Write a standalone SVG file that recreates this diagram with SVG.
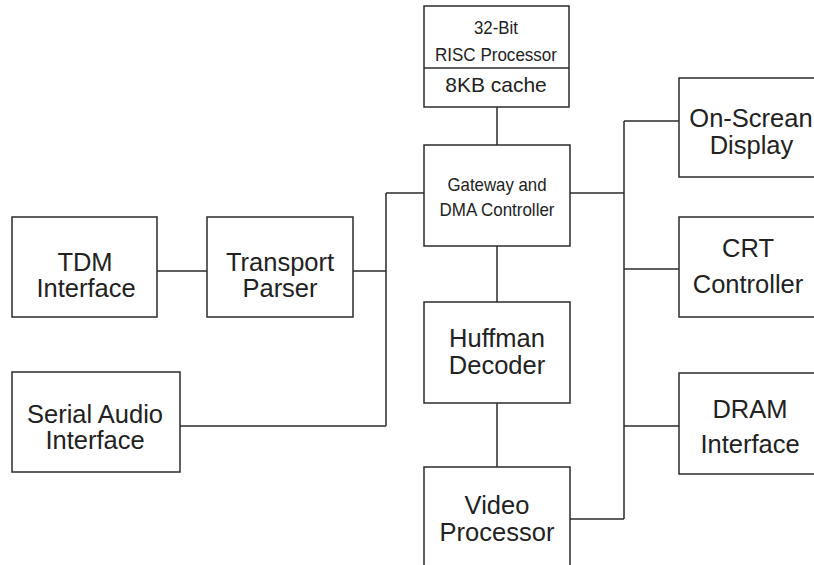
<svg xmlns="http://www.w3.org/2000/svg" width="814" height="565" viewBox="0 0 814 565">
<style>
.box{fill:#fff;stroke:#2b2b2b;stroke-width:1.5}
.ln{fill:none;stroke:#2b2b2b;stroke-width:1.5}
text{font-family:"Liberation Sans",Arial,sans-serif;fill:#222;text-anchor:middle}
.big{font-size:25.5px}
.sm{font-size:18.5px}
.md{font-size:21px}
</style>
<rect width="814" height="565" fill="#fff"/>
<g id="connectors">
<path class="ln" d="M497,107V145M497,246V302M497,403V467"/>
<path class="ln" d="M157,271H207M353,271H386M180,426H386M386,193V426M386,193H424"/>
<path class="ln" d="M570,193H624M624,121V519M624,121H679M624,269H679M624,426H679M570,519H624"/>
</g>
<g id="risc">
<rect class="box" x="424" y="6" width="145" height="101"/>
<line class="ln" x1="424" y1="68" x2="569" y2="68"/>
<text class="sm" x="496" y="34" textLength="44" lengthAdjust="spacingAndGlyphs">32-Bit</text>
<text class="sm" x="496" y="61" textLength="122" lengthAdjust="spacingAndGlyphs">RISC Processor</text>
<text class="md" x="496" y="92">8KB cache</text>
</g>
<g id="gateway">
<rect class="box" x="424" y="145" width="146" height="101"/>
<text class="sm" x="497" y="191" textLength="99" lengthAdjust="spacingAndGlyphs">Gateway and</text>
<text class="sm" x="497" y="216" textLength="115" lengthAdjust="spacingAndGlyphs">DMA Controller</text>
</g>
<g id="tdm">
<rect class="box" x="12" y="217" width="145" height="100"/>
<text class="big" x="85" y="271">TDM</text>
<text class="big" x="86" y="297">Interface</text>
</g>
<g id="transport">
<rect class="box" x="207" y="217" width="146" height="100"/>
<text class="big" x="280" y="271">Transport</text>
<text class="big" x="280" y="297">Parser</text>
</g>
<g id="serial">
<rect class="box" x="12" y="372" width="168" height="100"/>
<text class="big" x="95" y="423">Serial Audio</text>
<text class="big" x="95" y="449">Interface</text>
</g>
<g id="huffman">
<rect class="box" x="424" y="302" width="146" height="101"/>
<text class="big" x="497" y="347">Huffman</text>
<text class="big" x="497" y="374">Decoder</text>
</g>
<g id="video">
<rect class="box" x="424" y="467" width="146" height="110"/>
<text class="big" x="497" y="514">Video</text>
<text class="big" x="497" y="541">Processor</text>
</g>
<g id="osd">
<rect class="box" x="679" y="78" width="146" height="99"/>
<text class="big" x="751" y="127">On-Screan</text>
<text class="big" x="751.5" y="154">Display</text>
</g>
<g id="crt">
<rect class="box" x="679" y="217" width="146" height="100"/>
<text class="big" x="748" y="257">CRT</text>
<text class="big" x="748" y="293">Controller</text>
</g>
<g id="dram">
<rect class="box" x="679" y="373" width="146" height="101"/>
<text class="big" x="750" y="418">DRAM</text>
<text class="big" x="750" y="453">Interface</text>
</g>
</svg>
